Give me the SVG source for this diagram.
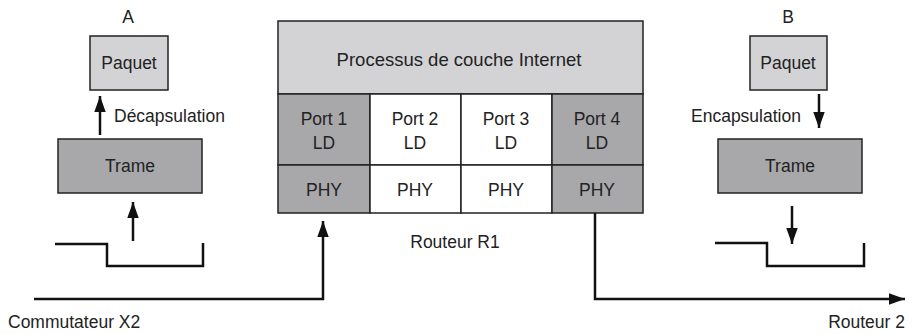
<svg xmlns="http://www.w3.org/2000/svg" width="914" height="334" viewBox="0 0 914 334">
<style>
text{font-family:"Liberation Sans",Arial,sans-serif;font-size:17.5px;fill:#222;}
.m{text-anchor:middle;}
.lt{fill:#d3d3d5;stroke:#222;stroke-width:1.5;}
.dk{fill:#a8a8aa;stroke:#222;stroke-width:1.5;}
.wh{fill:#fff;stroke:#222;stroke-width:1.5;}
.ln{fill:none;stroke:#111;stroke-width:2.5;}
</style>
<defs>
<marker id="ah" viewBox="0 0 14 10" refX="14" refY="5" markerWidth="6.6" markerHeight="4.7" orient="auto" markerUnits="strokeWidth">
<path d="M0,0L14,5L0,10z" fill="#111"/>
</marker>
</defs>
<g id="hostA">
<text class="m" x="128" y="23">A</text>
<g id="paquetA"><rect class="lt" x="90" y="36" width="78" height="54"/><text class="m" x="129" y="69">Paquet</text></g>
<g id="trameA"><rect class="dk" x="58" y="139" width="144" height="54"/><text class="m" x="130" y="172">Trame</text></g>
<text x="114" y="122">Décapsulation</text>
</g>
<g id="hostB">
<text class="m" x="788" y="23">B</text>
<g id="paquetB"><rect class="lt" x="750" y="36" width="77" height="54"/><text class="m" x="788" y="69">Paquet</text></g>
<g id="trameB"><rect class="dk" x="718" y="139" width="144" height="54"/><text class="m" x="790" y="172">Trame</text></g>
<text x="691" y="122">Encapsulation</text>
</g>
<g id="router">
<rect class="lt" x="278" y="21" width="365" height="73"/>
<text class="m" x="459" y="66" style="font-size:18.5px">Processus de couche Internet</text>
<rect class="dk" x="278" y="94" width="92" height="71"/>
<rect class="wh" x="370" y="94" width="91" height="71"/>
<rect class="wh" x="461" y="94" width="91" height="71"/>
<rect class="dk" x="552" y="94" width="91" height="71"/>
<rect class="dk" x="278" y="165" width="92" height="48"/>
<rect class="wh" x="370" y="165" width="91" height="48"/>
<rect class="wh" x="461" y="165" width="91" height="48"/>
<rect class="dk" x="552" y="165" width="91" height="48"/>
<text class="m" x="324" y="125">Port 1</text><text class="m" x="324" y="149">LD</text>
<text class="m" x="415" y="125">Port 2</text><text class="m" x="415" y="149">LD</text>
<text class="m" x="506" y="125">Port 3</text><text class="m" x="506" y="149">LD</text>
<text class="m" x="597" y="125">Port 4</text><text class="m" x="597" y="149">LD</text>
<text class="m" x="324" y="196">PHY</text>
<text class="m" x="415" y="196">PHY</text>
<text class="m" x="506" y="196">PHY</text>
<text class="m" x="597" y="196">PHY</text>
<text class="m" x="455" y="248">Routeur R1</text>
</g>
<g id="signals">
<path class="ln" d="M55,244H107V266H203V243"/>
<path class="ln" d="M715,243H767V266H864V243"/>
</g>
<g id="labels">
<text x="8" y="328">Commutateur X2</text>
<text x="905" y="328" style="text-anchor:end">Routeur 2</text>
</g>
<g id="connectors">
<path class="ln" d="M100,135V96" marker-end="url(#ah)"/>
<path class="ln" d="M133,241V202" marker-end="url(#ah)"/>
<path class="ln" d="M819,94V128" marker-end="url(#ah)"/>
<path class="ln" d="M792,206V244" marker-end="url(#ah)"/>
<path class="ln" d="M34,299H323V221" marker-end="url(#ah)"/>
<path class="ln" d="M595,213V299H905" marker-end="url(#ah)"/>
</g>
</svg>
